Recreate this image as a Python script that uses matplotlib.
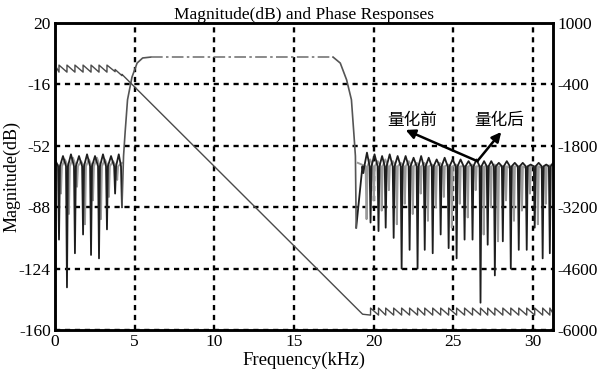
import numpy as np
import matplotlib
matplotlib.use("Agg")
import matplotlib.pyplot as plt

plt.rcParams["axes.unicode_minus"] = False

# ---- valores ----
# banda de paso (comun a ambos filtros)
pb_rise_f = [4.2, 4.3, 4.4, 4.55, 4.83, 5.15, 5.5, 6.0]
pb_rise_db = [-88, -58, -44, -25, -11.7, -3.5, -0.5, 0.0]
pb_flat_f = [6.0, 8.0, 10.0, 12.0, 14.0, 16.0, 17.45]
pb_flat_db = [0.0, 0.0, 0.0, 0.0, 0.0, 0.0, 0.0]
pb_fall_f = [17.45, 17.9, 18.3, 18.6, 18.75, 18.85, 18.9]
pb_fall_db = [0.0, -3.5, -13.4, -25, -44.5, -58, -100]

# banda de rechazo izquierda, filtro cuantizado (negro)
izq_nulos_f = [0.25, 0.75, 1.25, 1.76, 2.26, 2.76, 3.26, 3.77, 4.2]
izq_nulos_db = [-107, -135, -115, -104, -116, -118, -101, -80, -88]
izq_picos_db = [-58, -57, -58, -57, -58, -57, -58, -57]
# banda de rechazo izquierda, filtro original (gris)
izq_nulos_f_g = [0.37, 0.87, 1.38, 1.88, 2.38, 2.88, 3.38, 3.9]
izq_nulos_db_g = [-80, -92, -76, -98, -84, -95, -82, -72]
izq_picos_db_g = [-60, -59, -61, -60, -59, -60, -61]

# banda de rechazo derecha, filtro cuantizado (negro)
der_nulos_f = [19.35, 19.8, 20.3, 20.75, 21.25, 21.75, 22.25, 22.75, 23.2, 23.7,
               24.2, 24.7, 25.2, 25.7, 26.2, 26.7, 27.15, 27.6, 28.1, 28.6,
               29.1, 29.6, 30.1, 30.6, 31.05]
der_nulos_db = [-68, -97, -102, -100, -106, -124, -113, -124, -113, -115,
                -104, -112, -118, -107, -107, -144, -110, -128, -108, -124,
                -113, -113, -100, -118, -115]
der_picos_db = [-56, -57, -58, -57, -58, -58, -59, -58, -59, -60,
                -59, -60, -60, -61, -60, -61, -61, -62, -61, -62,
                -62, -63, -62, -63]
# banda de rechazo derecha, filtro original (gris)
der_nulos_f_g = [19.55, 20.0, 20.5, 20.95, 21.45, 21.95, 22.45, 22.95, 23.4, 23.9,
                 24.4, 24.9, 25.4, 25.9, 26.4, 26.9, 27.35, 27.8, 28.3, 28.8,
                 29.3, 29.8, 30.3, 30.8]
der_nulos_db_g = [-95, -84, -90, -78, -98, -86, -92, -80, -96, -88,
                  -82, -100, -86, -94, -78, -104, -88, -108, -84, -96,
                  -90, -80, -98, -86]
der_picos_db_g = [-60, -61, -60, -61, -62, -61, -62, -62, -63, -62,
                  -63, -63, -64, -63, -64, -64, -63, -64, -65, -64,
                  -65, -64, -65]

# fase (grados)
fase_izq_saltos = [0.25, 0.75, 1.25, 1.76, 2.26, 2.76, 3.26]
fase_izq_alto, fase_izq_bajo = 40, -120
fase_lineal_f = [3.77, 3.77, 4.2, 4.2]
fase_lineal_deg = [-110, -60, -200, -170]
fase_codo_f, fase_codo_deg = 19.3, -5640
fase_der_saltos = [19.8, 20.3, 20.75, 21.25, 21.75, 22.25, 22.75, 23.2, 23.7, 24.2,
                   24.7, 25.2, 25.7, 26.2, 26.7, 27.15, 27.6, 28.1, 28.6, 29.1,
                   29.6, 30.1, 30.6, 31.05]
fase_der_alto, fase_der_bajo = -5500, -5660

F_MAX = 31.25
HOMBRO = -64


def rechazo(f0, db0, nulos_f, nulos_db, picos_db, f1, db1):
    f, d = [f0], [db0]
    for i, (fn, dn) in enumerate(zip(nulos_f, nulos_db)):
        f += [fn - 0.06, fn, fn + 0.06]
        d += [HOMBRO, dn, HOMBRO]
        if i < len(picos_db):
            f.append((fn + nulos_f[i + 1]) / 2)
            d.append(picos_db[i])
    f.append(f1)
    d.append(db1)
    return f, d


def dientes(f_ini, v_ini, saltos, alto, bajo):
    f, v = [f_ini], [v_ini]
    for s in saltos:
        f += [s, s]
        v += [bajo, alto]
    return f, v


fig = plt.figure(figsize=(6.0, 3.71), dpi=100)
ax = fig.add_axes([0.0917, 0.1105, 0.83, 0.8275])
ax2 = ax.twinx()

serif = "Liberation Serif"

# magnitud
f, d = rechazo(0.0, -62, izq_nulos_f_g, izq_nulos_db_g, izq_picos_db_g, 4.2, -62)
ax.plot(f, d, color="#9a9a9a", lw=1.4)
f, d = rechazo(19.0, -62, der_nulos_f_g, der_nulos_db_g, der_picos_db_g, F_MAX, -63)
ax.plot(f, d, color="#9a9a9a", lw=1.4)

f, d = rechazo(0.0, -60, izq_nulos_f[:-1], izq_nulos_db[:-1], izq_picos_db[:-1], 4.0, -57)
ax.plot(f + [4.14, 4.2], d + [HOMBRO, -88], color="#1e1e1e", lw=1.3)
f, d = rechazo(18.9, -100, der_nulos_f, der_nulos_db, der_picos_db, F_MAX, -62)
ax.plot(f, d, color="#1e1e1e", lw=1.3)

ax.plot(pb_rise_f, pb_rise_db, color="#555555", lw=1.2)
ax.plot(pb_flat_f, pb_flat_db, color="#777777", lw=1.2, dashes=(7, 2, 1.5, 2))
ax.plot(pb_fall_f, pb_fall_db, color="#555555", lw=1.2)

# fase
fz, vz = dientes(0.0, fase_izq_alto, fase_izq_saltos, fase_izq_alto, fase_izq_bajo)
fz += fase_lineal_f
vz += fase_lineal_deg
fd, vd = dientes(fase_codo_f, fase_codo_deg, fase_der_saltos, fase_der_alto, fase_der_bajo)
fd.append(F_MAX)
vd.append(fase_der_bajo + 40)
ax2.plot(fz + fd, vz + vd, color="#4a4a4a", lw=1.0)

ax.set_xlim(0, F_MAX)
ax.set_ylim(-160, 20)
ax2.set_ylim(-6000, 1000)
ax.set_xticks([0, 5, 10, 15, 20, 25, 30])
ax.set_yticks([20, -16, -52, -88, -124, -160])
ax2.set_yticks([1000, -400, -1800, -3200, -4600, -6000])

ax.grid(True, color="black", lw=1.7, linestyle=(0, (2.2, 2.0)))

for a in (ax, ax2):
    a.tick_params(length=0, labelsize=12.5, pad=3)
    for lab in a.get_xticklabels() + a.get_yticklabels():
        lab.set_fontfamily(serif)
    for s in a.spines.values():
        s.set_linewidth(1.8)

ax.set_title("Magnitude(dB) and Phase Responses", fontsize=12.5, family=serif, pad=3)
ax.set_xlabel("Frequency(kHz)", fontsize=13.5, family=serif, labelpad=1)
ax.set_ylabel("Magnitude(dB)", fontsize=13, family=serif, labelpad=-1)

# anotaciones
cjk = ["Noto Sans CJK SC", "DejaVu Sans"]
ax.text(22.4, -36.9, "量化前", fontsize=12, family=cjk, ha="center", va="center")
ax.text(27.9, -36.9, "量化后", fontsize=12, family=cjk, ha="center", va="center")
flecha = dict(arrowstyle="-|>", color="black", lw=1.8, mutation_scale=14,
              shrinkA=0, shrinkB=0)
ax.annotate("", xy=(22.0, -42.7), xytext=(26.5, -61.0), arrowprops=flecha)
ax.annotate("", xy=(28.0, -43.9), xytext=(26.5, -61.0), arrowprops=flecha)

fig.savefig("out.png", dpi=100)
